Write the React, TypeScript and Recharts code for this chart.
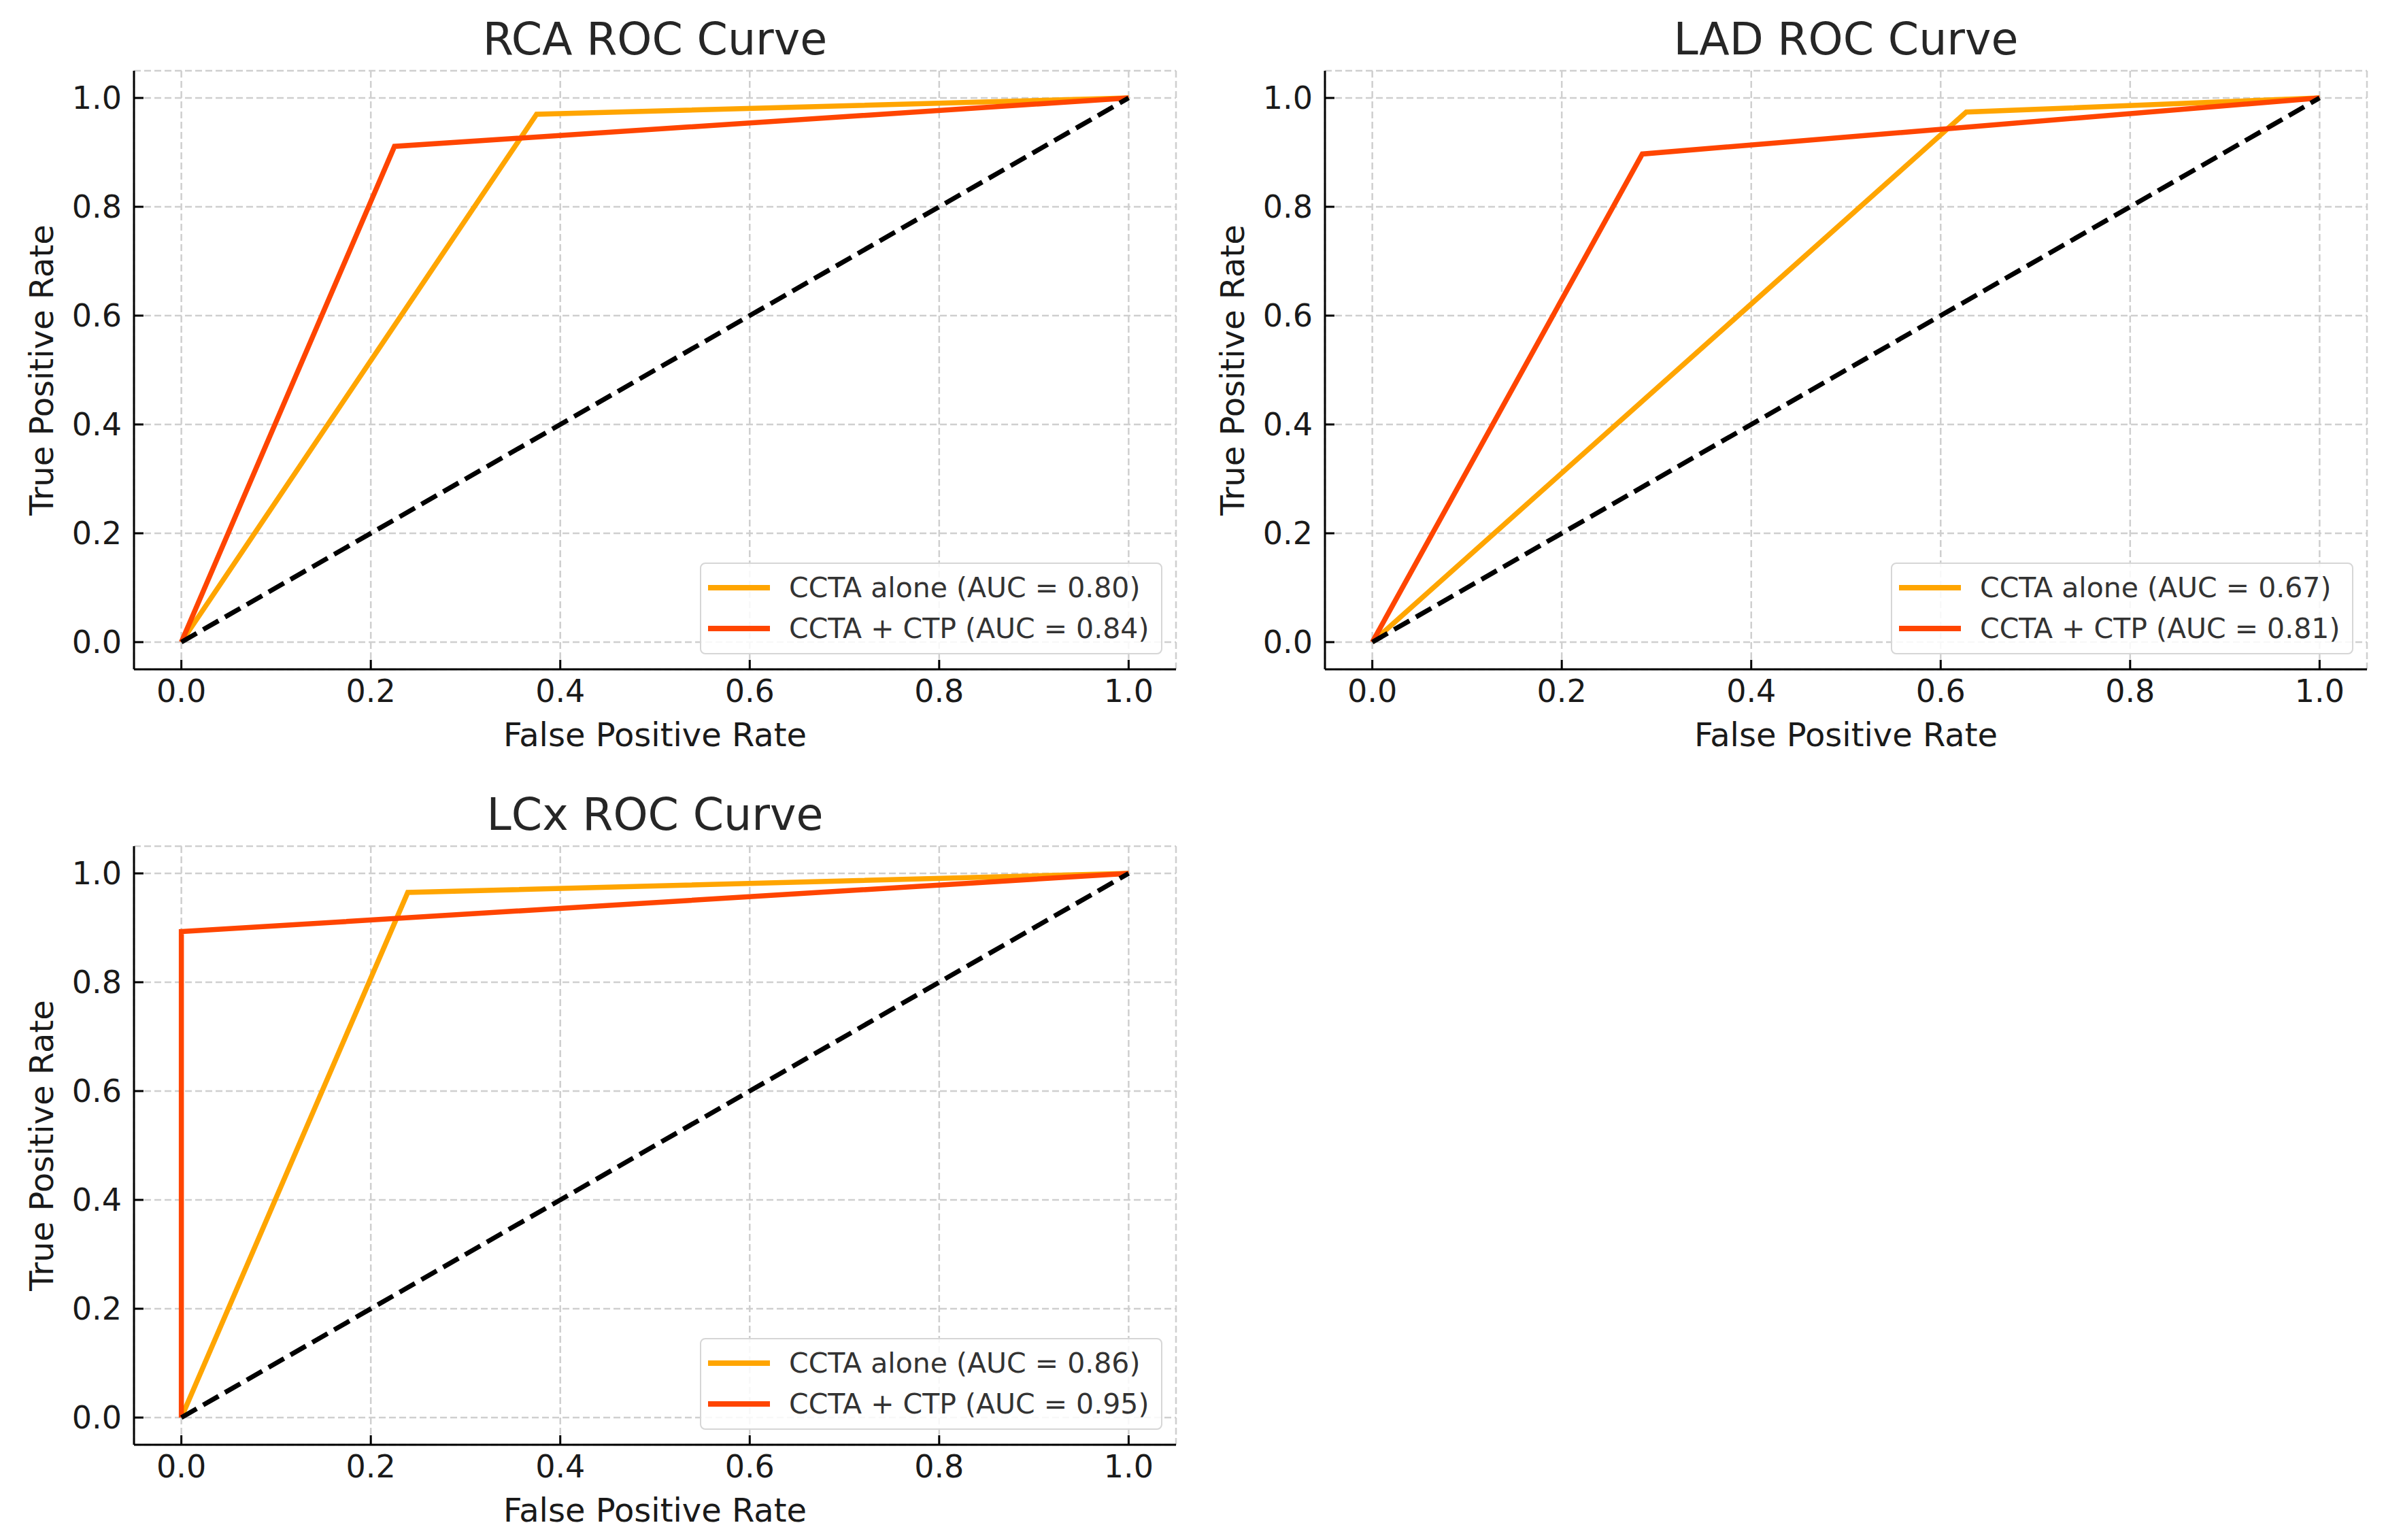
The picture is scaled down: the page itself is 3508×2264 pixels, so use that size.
import { CartesianGrid, Legend, Line, LineChart, XAxis, YAxis } from 'recharts';

interface Pt {
  fpr: number;
  tpr: number;
}

// values
const rcaAlone: Pt[] = [
  { fpr: 0, tpr: 0 },
  { fpr: 0.375, tpr: 0.97 },
  { fpr: 1, tpr: 1 },
];
const rcaCtp: Pt[] = [
  { fpr: 0, tpr: 0 },
  { fpr: 0.225, tpr: 0.911 },
  { fpr: 1, tpr: 1 },
];
const ladAlone: Pt[] = [
  { fpr: 0, tpr: 0 },
  { fpr: 0.627, tpr: 0.974 },
  { fpr: 1, tpr: 1 },
];
const ladCtp: Pt[] = [
  { fpr: 0, tpr: 0 },
  { fpr: 0.285, tpr: 0.897 },
  { fpr: 1, tpr: 1 },
];
const lcxAlone: Pt[] = [
  { fpr: 0, tpr: 0 },
  { fpr: 0.239, tpr: 0.965 },
  { fpr: 1, tpr: 1 },
];
const lcxCtp: Pt[] = [
  { fpr: 0, tpr: 0 },
  { fpr: 0, tpr: 0.893 },
  { fpr: 1, tpr: 1 },
];
const chance: Pt[] = [
  { fpr: 0, tpr: 0 },
  { fpr: 1, tpr: 1 },
];

const TICKS = [0, 0.2, 0.4, 0.6, 0.8, 1.0];
const DOMAIN: [number, number] = [-0.05, 1.05];

const FONT = "'DejaVu Sans', Verdana, sans-serif";
const ORANGE = '#ffa500';
const ORANGERED = '#ff4500';
const GRID = '#cfcfcf';
const INK = '#1a1a1a';

const PLOT_W = 1532;
const PLOT_H = 880;
const Y_AXIS_W = 197;
const TOP = 104;
const TICK_LEN = 14;
const X_MARGIN = 14;
const Y_MARGIN = 18;
const LINE_W = 7.5;

function XTick({ x, y, payload }: any) {
  const axisY = y - X_MARGIN;
  return (
    <g>
      <line x1={x} x2={x} y1={axisY} y2={axisY - TICK_LEN} stroke="#000" strokeWidth={3} />
      <text x={x} y={axisY + 48} textAnchor="middle" fontSize={46} fill={INK} fontFamily={FONT}>
        {payload.value.toFixed(1)}
      </text>
    </g>
  );
}

function YTick({ x, y, payload }: any) {
  const axisX = x + Y_MARGIN;
  return (
    <g>
      <line x1={axisX} x2={axisX + TICK_LEN} y1={y} y2={y} stroke="#000" strokeWidth={3} />
      <text x={x} y={y + 16} textAnchor="end" fontSize={46} fill={INK} fontFamily={FONT}>
        {payload.value.toFixed(1)}
      </text>
    </g>
  );
}

function LegendBox({ payload }: any) {
  // keep the plotting order: "alone" first, then "+ CTP"
  const items = (payload || [])
    .filter((p: any) => p.type !== 'none')
    .slice()
    .sort((a: any, b: any) => (a.value.includes('alone') ? 0 : 1) - (b.value.includes('alone') ? 0 : 1));
  return (
    <div
      style={{
        boxSizing: 'border-box',
        width: 680,
        height: 135,
        paddingTop: 5,
        background: 'rgba(255,255,255,0.85)',
        border: '2px solid #d6d6d6',
        borderRadius: 8,
        fontFamily: FONT,
        fontSize: 41,
        color: '#333',
      }}
    >
      {items.map((p: any) => (
        <div key={p.value} style={{ display: 'flex', alignItems: 'center', height: 60 }}>
          <div style={{ width: 91, height: 7.5, background: p.color, marginLeft: 10, marginRight: 28 }} />
          <span style={{ whiteSpace: 'nowrap' }}>{p.value}</span>
        </div>
      ))}
    </div>
  );
}

interface PanelProps {
  title: string;
  left: number;
  top: number;
  height: number;
  alone: Pt[];
  ctp: Pt[];
  aucAlone: string;
  aucCtp: string;
}

function RocPanel({ title, left, top, height, alone, ctp, aucAlone, aucCtp }: PanelProps) {
  const xAxisH = height - TOP - PLOT_H;
  return (
    <div style={{ position: 'absolute', left, top, width: 1754, height }}>
      <div
        style={{
          position: 'absolute',
          left: Y_AXIS_W,
          width: PLOT_W,
          top: 25,
          textAlign: 'center',
          fontFamily: FONT,
          fontSize: 65,
          lineHeight: '65px',
          color: '#262626',
          zIndex: 2,
        }}
      >
        {title}
      </div>
      <LineChart width={1754} height={height} margin={{ top: TOP, right: 25, bottom: 0, left: 0 }}>
        <CartesianGrid stroke={GRID} strokeWidth={2.5} strokeDasharray="10 5" />
        <XAxis
          type="number"
          dataKey="fpr"
          domain={DOMAIN}
          ticks={TICKS}
          interval={0}
          allowDataOverflow
          height={xAxisH}
          tickSize={0}
          tickMargin={X_MARGIN}
          tickLine={false}
          axisLine={{ stroke: '#000', strokeWidth: 3 }}
          tick={<XTick />}
          label={{
            content: ({ viewBox }: any) => (
              <text
                x={viewBox.x + viewBox.width / 2}
                y={viewBox.y + 113}
                textAnchor="middle"
                fontSize={48}
                fill={INK}
                fontFamily={FONT}
              >
                False Positive Rate
              </text>
            ),
          }}
        />
        <YAxis
          type="number"
          dataKey="tpr"
          domain={DOMAIN}
          ticks={TICKS}
          interval={0}
          allowDataOverflow
          width={Y_AXIS_W}
          tickSize={0}
          tickMargin={Y_MARGIN}
          tickLine={false}
          axisLine={{ stroke: '#000', strokeWidth: 3 }}
          tick={<YTick />}
          label={{
            content: ({ viewBox }: any) => {
              const cx = viewBox.x + 78;
              const cy = viewBox.y + viewBox.height / 2;
              return (
                <text
                  x={cx}
                  y={cy}
                  transform={`rotate(-90, ${cx}, ${cy})`}
                  textAnchor="middle"
                  fontSize={48}
                  fill={INK}
                  fontFamily={FONT}
                >
                  True Positive Rate
                </text>
              );
            },
          }}
        />
        <Legend
          layout="horizontal"
          verticalAlign="middle"
          align="center"
          content={<LegendBox />}
          wrapperStyle={{ left: 1029, top: 827, width: 680, height: 135 }}
        />
        <Line
          data={alone}
          dataKey="tpr"
          name={`CCTA alone (AUC = ${aucAlone})`}
          type="linear"
          stroke={ORANGE}
          strokeWidth={LINE_W}
          dot={false}
          activeDot={false}
          isAnimationActive={false}
        />
        <Line
          data={ctp}
          dataKey="tpr"
          name={`CCTA + CTP (AUC = ${aucCtp})`}
          type="linear"
          stroke={ORANGERED}
          strokeWidth={LINE_W}
          dot={false}
          activeDot={false}
          isAnimationActive={false}
        />
        <Line
          data={chance}
          dataKey="tpr"
          name="chance"
          legendType="none"
          type="linear"
          stroke="#000"
          strokeWidth={7}
          strokeDasharray="26 11"
          dot={false}
          activeDot={false}
          isAnimationActive={false}
        />
      </LineChart>
    </div>
  );
}

export default function App() {
  return (
    <div
      style={{
        position: 'absolute',
        left: 0,
        top: 0,
        width: 3508,
        height: 2264,
        background: '#fff',
        overflow: 'hidden',
      }}
    >
      <RocPanel title="RCA ROC Curve" left={0} top={0} height={1132} alone={rcaAlone} ctp={rcaCtp} aucAlone="0.80" aucCtp="0.84" />
      <RocPanel title="LAD ROC Curve" left={1751} top={0} height={1132} alone={ladAlone} ctp={ladCtp} aucAlone="0.67" aucCtp="0.81" />
      <RocPanel title="LCx ROC Curve" left={0} top={1140} height={1124} alone={lcxAlone} ctp={lcxCtp} aucAlone="0.86" aucCtp="0.95" />
    </div>
  );
}
